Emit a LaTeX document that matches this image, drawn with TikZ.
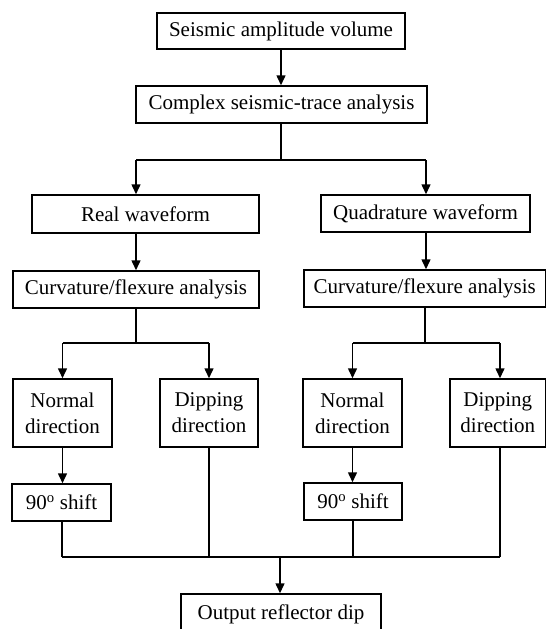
\documentclass[tikz,border=0pt]{standalone}
\usepackage{fontspec}
\setmainfont{Liberation Serif}
\usetikzlibrary{arrows.meta}
\begin{document}
\begin{tikzpicture}[x=1pt,y=-1pt,
  box/.style={draw, line width=1.5pt, inner sep=0pt, align=center,
    font=\fontsize{21}{26}\selectfont},
  ln/.style={line width=1.5pt},
  arr/.style={ln, -{Triangle[length=10pt,width=9pt]}}]
\useasboundingbox (0,0) rectangle (546,629);
\node[box, minimum width=248pt, minimum height=36pt] (b1) at (281,31) {Seismic amplitude volume};
\node[box, minimum width=291pt, minimum height=37pt] (b2) at (281.5,104.5) {Complex seismic-trace analysis};
\node[box, minimum width=227pt, minimum height=38pt] (real) at (145.5,214) {Real waveform};
\node[box, minimum width=209pt, minimum height=37pt] (quad) at (425.5,213.5) {Quadrature waveform};
\node[box, minimum width=246pt, minimum height=37pt] (curvL) at (136,289.5) {Curvature/flexure analysis};
\node[box, minimum width=241.5pt, minimum height=37pt] (curvR) at (424.75,288.5) {Curvature/flexure analysis};
\node[box, minimum width=99pt, minimum height=68pt] (normL) at (62.5,413) {Normal\\direction};
\node[box, minimum width=98pt, minimum height=68pt] (dipL) at (209,413) {Dipping\\direction};
\node[box, minimum width=99pt, minimum height=68pt] (normR) at (352.5,413) {Normal\\direction};
\node[box, minimum width=95.5pt, minimum height=68pt] (dipR) at (497.75,413) {Dipping\\direction};
\node[box, minimum width=99pt, minimum height=37pt] (shiftL) at (61.5,502.5) {90\textsuperscript{o} shift};
\node[box, minimum width=98pt, minimum height=37pt] (shiftR) at (353,501.5) {90\textsuperscript{o} shift};
\node[box, minimum width=200pt, minimum height=41pt] (out) at (281,614.5) {Output reflector dip};
% junction coordinates
\coordinate (s1) at (281,160);
\coordinate (s1L) at (136,160);
\coordinate (s1R) at (426,160);
\coordinate (s2L) at (136,343);
\coordinate (s2R) at (425,343);
\coordinate (xDR) at (500,343);
\coordinate (m) at (280,557);
\coordinate (mL) at (62,557);
\coordinate (mR) at (500,557);
% connectors
\draw[arr] (b1.south) -- (b1.south |- b2.north);
\draw[ln] (s1 |- b2.south) -- (s1);
\draw[ln] (s1L) -- (s1R);
\draw[arr] (s1L) -- (s1L |- real.north);
\draw[arr] (s1R) -- (s1R |- quad.north);
\draw[arr] (curvL.north |- real.south) -- (curvL.north);
\draw[arr] (s1R |- quad.south) -- (s1R |- curvR.north);
\draw[ln] (curvL.south) -- (s2L);
\draw[ln] (normL.north |- s2L) -- (dipL.north |- s2L);
\draw[arr] (normL.north |- s2L) -- (normL.north);
\draw[arr] (dipL.north |- s2L) -- (dipL.north);
\draw[ln] (s2R |- curvR.south) -- (s2R);
\draw[ln] (normR.north |- s2R) -- (xDR);
\draw[arr] (normR.north |- s2R) -- (normR.north);
\draw[arr] (xDR) -- (xDR |- dipR.north);
\draw[arr] (normL.south) -- (normL.south |- shiftL.north);
\draw[arr] (normR.south) -- (normR.south |- shiftR.north);
\draw[ln] (mL |- shiftL.south) -- (mL);
\draw[ln] (dipL.south) -- (dipL.south |- m);
\draw[ln] (shiftR.south) -- (shiftR.south |- m);
\draw[ln] (xDR |- dipR.south) -- (mR);
\draw[ln] (mL) -- (mR);
\draw[arr] (m) -- (m |- out.north);
\end{tikzpicture}
\end{document}
